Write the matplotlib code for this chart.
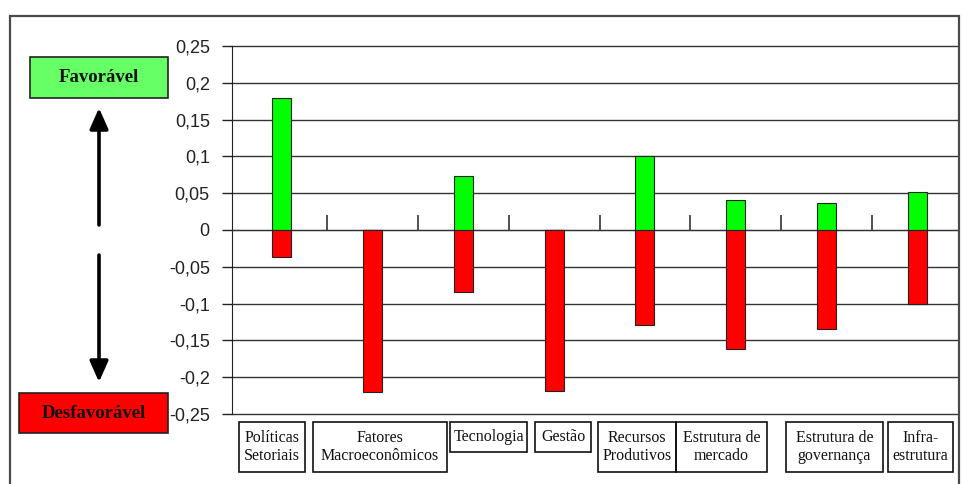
import matplotlib
matplotlib.use("Agg")
import matplotlib.pyplot as plt
from matplotlib.patches import Rectangle, FancyArrowPatch
from matplotlib.ticker import FixedLocator, FuncFormatter

categories = ["Políticas\nSetoriais", "Fatores\nMacroeconômicos", "Tecnologia", "Gestão",
              "Recursos\nProdutivos", "Estrutura de\nmercado", "Estrutura de\ngovernança",
              "Infra-\nestrutura"]
favoravel = [0.18, 0.0, 0.073, 0.0, 0.10, 0.041, 0.037, 0.051]
desfavoravel = [-0.037, -0.22, -0.084, -0.219, -0.129, -0.162, -0.134, -0.10]
y_ticks = [-0.25, -0.2, -0.15, -0.1, -0.05, 0, 0.05, 0.1, 0.15, 0.2, 0.25]

W, H = 963, 484
fig = plt.figure(figsize=(W / 100, H / 100), dpi=100)
fig.patch.set_facecolor("white")

def fx(px):
    return px / W

def fy(py):
    return 1 - py / H

# outer frame
fig.add_artist(Rectangle((fx(10), fy(500)), fx(949), (500 - 16) / H,
                         transform=fig.transFigure, fill=False,
                         edgecolor="#4a4a4a", lw=1.6))

ax = fig.add_axes([fx(232), fy(414), fx(958 - 232), 368 / H])
x = list(range(len(categories)))
bw = 0.21
ax.bar(x, favoravel, width=bw, color="#00ff00", edgecolor="#222222", lw=0.8, zorder=3)
ax.bar(x, desfavoravel, width=bw, color="#ff0000", edgecolor="#222222", lw=0.8, zorder=3)

ax.set_xlim(-0.55, 7.45)
ax.set_ylim(-0.25, 0.25)
ax.yaxis.set_major_locator(FixedLocator(y_ticks))
ax.yaxis.set_major_formatter(FuncFormatter(
    lambda v, p: ("%g" % round(v, 2)).replace(".", ",")))
ax.tick_params(axis="y", length=7, width=1, color="#222222", pad=9,
               labelsize=13, labelcolor="#222222")
for lab in ax.get_yticklabels():
    lab.set_fontfamily("Liberation Sans")
ax.grid(axis="y", color="#333333", lw=1.0, zorder=1)
for gl in ax.get_ygridlines():
    gl.set_clip_on(False)

# category separators on the zero line
ax.spines["bottom"].set_position(("data", 0))
ax.spines["bottom"].set_color("#333333")
ax.xaxis.set_major_locator(FixedLocator([i + 0.5 for i in range(len(categories) - 1)]))
ax.tick_params(axis="x", direction="in", length=11, width=1.2, color="#333333",
               labelbottom=False)
for s in ("top", "right"):
    ax.spines[s].set_visible(False)
ax.spines["left"].set_color("#222222")
ax.set_axisbelow(True)

# category label boxes
boxes = [(239, 305, 472), (313, 447, 472), (450, 527, 452), (535, 591, 452),
         (598, 676, 472), (676, 767, 472), (786, 883, 472), (888, 953, 472)]
for name, (l, r, b) in zip(categories, boxes):
    fig.add_artist(Rectangle((fx(l), fy(b)), fx(r - l), (b - 422) / H,
                             transform=fig.transFigure, fill=False,
                             edgecolor="#111111", lw=1.2))
    fig.text(fx((l + r) / 2), fy((422 + b) / 2), name, ha="center", va="center",
             family="Liberation Serif", fontsize=11.5, linespacing=1.15,
             color="#111111")

# legend boxes and arrows
fig.add_artist(Rectangle((fx(30), fy(98)), fx(138), 41 / H, transform=fig.transFigure,
                         facecolor="#66ff66", edgecolor="#222222", lw=1.2))
fig.text(fx(99), fy(77.5), "Favorável", ha="center", va="center",
         family="Liberation Serif", fontweight="bold", fontsize=13.5, color="#111111")
fig.add_artist(Rectangle((fx(19), fy(433)), fx(149), 40 / H, transform=fig.transFigure,
                         facecolor="#ff0000", edgecolor="#222222", lw=1.2))
fig.text(fx(93.5), fy(413), "Desfavorável", ha="center", va="center",
         family="Liberation Serif", fontweight="bold", fontsize=13.5, color="#111111")

for y0, y1 in ((225, 108), (255, 382)):
    fig.add_artist(FancyArrowPatch((fx(99), fy(y0)), (fx(99), fy(y1)),
                                   transform=fig.transFigure,
                                   arrowstyle="-|>,head_length=0.9,head_width=0.4",
                                   mutation_scale=14, lw=2.6, color="black",
                                   shrinkA=0, shrinkB=0))

fig.savefig("out.png", dpi=100, facecolor="white")
